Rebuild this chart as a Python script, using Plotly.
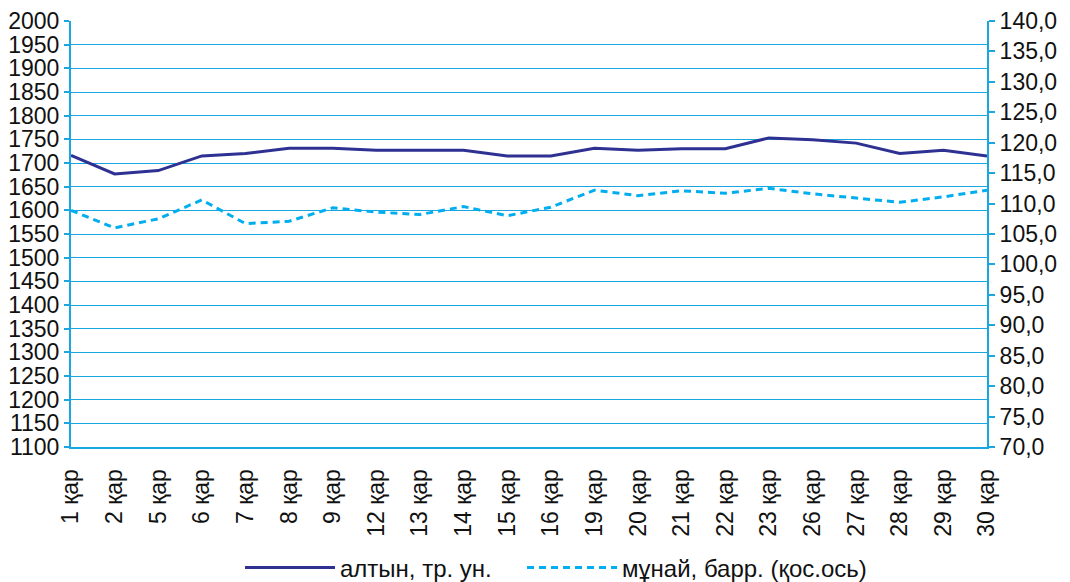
import plotly.graph_objects as go

categories = ["1 қар", "2 қар", "5 қар", "6 қар", "7 қар", "8 қар", "9 қар", "12 қар",
              "13 қар", "14 қар", "15 қар", "16 қар", "19 қар", "20 қар", "21 қар", "22 қар",
              "23 қар", "26 қар", "27 қар", "28 қар", "29 қар", "30 қар"]
gold = [1716, 1677, 1684, 1715, 1720, 1731, 1731, 1727, 1727, 1727, 1715, 1715,
        1731, 1727, 1730, 1730, 1753, 1749, 1742, 1720, 1727, 1715]
oil = [108.9, 106.0, 107.5, 110.6, 106.7, 107.1, 109.3, 108.6, 108.2, 109.5, 108.0, 109.4,
       112.2, 111.3, 112.1, 111.7, 112.5, 111.6, 110.9, 110.2, 111.1, 112.2]
left_ticks = list(range(1100, 2001, 50))
right_ticks = list(range(70, 141, 5))

font_family = "Liberation Sans, Arial, sans-serif"
blue = "#1aa7e0"

fig = go.Figure()
fig.add_trace(go.Scatter(x=categories, y=gold, name="алтын, тр. ун.", mode="lines",
                         line=dict(color="#2e3192", width=3), legend="legend"))
fig.add_trace(go.Scatter(x=categories, y=oil, name="мұнай, барр. (қос.ось)", mode="lines",
                         line=dict(color="#00aeef", width=3, dash="7px,5px"), yaxis="y2",
                         legend="legend2"))

legend_common = dict(orientation="h", y=-0.284, yanchor="middle", xanchor="left",
                     font=dict(size=24), itemwidth=90, bgcolor="rgba(0,0,0,0)")

fig.update_layout(
    width=1070, height=582,
    margin=dict(l=71, r=83, t=21, b=135, autoexpand=False),
    paper_bgcolor="white", plot_bgcolor="white",
    font=dict(family=font_family, size=23, color="#111111"),
    separators=", ",
    showlegend=True,
    legend=dict(x=0.1845, **legend_common),
    legend2=dict(x=0.4924, **legend_common),
    xaxis=dict(type="category", range=[0, len(categories) - 1], tickangle=-90,
               showgrid=False, showline=True, linecolor=blue, linewidth=2,
               ticks="", automargin=False, tickfont=dict(size=23), ticklabelstandoff=11),
    yaxis=dict(range=[1100, 2000], tickvals=left_ticks, showgrid=True, gridcolor=blue,
               gridwidth=1, showline=True, linecolor=blue, linewidth=2, ticks="outside",
               ticklen=5, tickcolor=blue, tickwidth=2, automargin=False, zeroline=False,
               tickfont=dict(size=23)),
    yaxis2=dict(range=[70, 140], tickvals=right_ticks, tickformat=".1f", overlaying="y",
                side="right", showgrid=False, showline=True, linecolor=blue, linewidth=2,
                ticks="outside", ticklen=6, tickcolor=blue, tickwidth=2, automargin=False,
                zeroline=False, tickfont=dict(size=23)),
)

fig.write_html("out.html", config={"displayModeBar": False},
               post_script="document.body.style.margin='0';")
